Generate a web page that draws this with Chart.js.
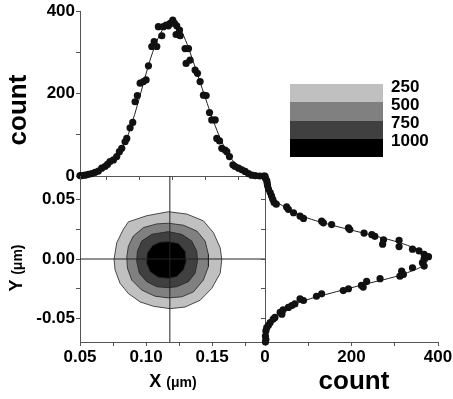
<!DOCTYPE html>
<html>
<head>
<meta charset="utf-8">
<title>beam profile</title>
<script src="https://cdn.jsdelivr.net/npm/chart.js@4.4.1/dist/chart.umd.min.js"></script>
<style>
    body { margin: 0; background: #fff; }
    #wrap { position: relative; width: 453px; height: 399px; overflow: hidden;
            font-family: "Liberation Sans", Arial, sans-serif; font-weight: bold; color: #000; }
    #wrap canvas { position: absolute; left: 0; top: 0; }
    .title { position: absolute; white-space: nowrap; line-height: 1; transform: translate(-50%, -50%); }
    .title.rot { transform: translate(-50%, -50%) rotate(-90deg); }
    .title small { font-size: 14px; font-weight: bold; }
    .key-band { position: absolute; left: 290px; width: 93px; }
    .key-label { position: absolute; left: 391px; font-size: 17px; line-height: 1; transform: translateY(-50%); }
</style>
</head>
<body>
<div id="wrap">
    <canvas id="top-chart" width="453" height="399"></canvas>
    <canvas id="map-chart" width="453" height="399"></canvas>
    <canvas id="side-chart" width="453" height="399"></canvas>
    <div class="title rot" style="left:17px; top:110px; font-size:26px;">count</div>
    <div class="title rot" style="left:16px; top:268px; font-size:18px;">Y <small>(μm)</small></div>
    <div class="title" style="left:173px; top:381px; font-size:18px;">X <small>(μm)</small></div>
    <div class="title" style="left:354px; top:380px; font-size:26px;">count</div>
    <div id="key"></div>
</div>
<script>
// axis ranges and ticks
var xRange = [0.05, 0.19];
var yRange = [-0.07, 0.07];
var countRange = [0, 400];
var mapTicksX = [0.05, 0.075, 0.10, 0.125, 0.15, 0.175];
var mapTicksY = [-0.05, -0.025, 0, 0.025, 0.05];
var topTicksX = [0.07, 0.095, 0.12, 0.145, 0.17];
var countTicks = [0, 100, 200, 300, 400];

// contour levels (key)
var levels = [250, 500, 750, 1000];
var levelColors = ['#c0c0c0', '#808080', '#404040', '#000000'];

// crosshair through the spot centre
var centerX = 0.118;
var centerY = 0.0;

// X profile: measured counts
var topX = [0.0500, 0.0513, 0.0538, 0.0563, 0.0588, 0.0614, 0.0639, 0.0664, 0.0689, 0.0708, 0.0727, 0.0753,
            0.0778, 0.0798, 0.0816, 0.0841, 0.0854, 0.0879, 0.0899, 0.0917, 0.0934, 0.0955, 0.0980, 0.1000,
            0.1018, 0.1043, 0.1061, 0.1081, 0.1093, 0.1119, 0.1131, 0.1152, 0.1169, 0.1182, 0.1202, 0.1215,
            0.1227, 0.1232, 0.1253, 0.1258, 0.1295, 0.1303, 0.1321, 0.1333, 0.1371, 0.1389, 0.1409, 0.1434,
            0.1455, 0.1480, 0.1497, 0.1523, 0.1535, 0.1556, 0.1573, 0.1598, 0.1611, 0.1631, 0.1657, 0.1674,
            0.1700, 0.1725, 0.1750, 0.1775, 0.1800, 0.1826, 0.1860, 0.1890];
var topCount = [1, 1, 2, 4, 6, 9, 12, 19, 23, 28, 35, 39,
                47, 59, 67, 83, 91, 117, 130, 180, 195, 225, 229, 233,
                267, 314, 326, 314, 362, 340, 362, 366, 364, 370, 378, 370,
                343, 364, 354, 340, 309, 273, 309, 281, 257, 249, 229, 196,
                195, 154, 136, 136, 91, 85, 67, 63, 59, 47, 27, 23,
                19, 15, 11, 6, 2, 1, 0, 0];

// X profile: fitted curve
var topFitX = [0.050, 0.055, 0.060, 0.065, 0.070, 0.075, 0.080, 0.085, 0.090, 0.095, 0.100, 0.105, 0.110, 0.115, 0.120,
               0.125, 0.130, 0.135, 0.140, 0.145, 0.150, 0.155, 0.160, 0.165, 0.170, 0.175, 0.180, 0.185, 0.190];
var topFitCount = [1, 3, 7, 14, 24, 38, 58, 88, 135, 190, 248, 300, 340, 364, 372,
                   360, 328, 284, 236, 188, 142, 100, 66, 40, 23, 12, 6, 2, 1];

// Y profile: measured counts
var sideY = [0.0700, 0.0680, 0.0661, 0.0640, 0.0618, 0.0590, 0.0561, 0.0533, 0.0504, 0.0476, 0.0462, 0.0439,
             0.0419, 0.0390, 0.0362, 0.0342, 0.0319, 0.0305, 0.0290, 0.0262, 0.0248, 0.0219, 0.0205, 0.0191,
             0.0162, 0.0158, 0.0125, 0.0105, 0.0083, 0.0069, 0.0040, 0.0020, 0.0003, -0.0031, -0.0060, -0.0074,
             -0.0103, -0.0130, -0.0145, -0.0166, -0.0189, -0.0223, -0.0237, -0.0251, -0.0266, -0.0294, -0.0314,
             -0.0336, -0.0350, -0.0379, -0.0393, -0.0408, -0.0428, -0.0450, -0.0465, -0.0493, -0.0507, -0.0536,
             -0.0559, -0.0579, -0.0607, -0.0650, -0.0679, -0.0700];
var sideCount = [0, 1, 4, 5, 6, 8, 12, 15, 18, 21, 26, 50,
                 54, 66, 81, 89, 131, 135, 154, 193, 196, 229, 247, 254,
                 274, 310, 272, 310, 341, 356, 368, 378, 368, 364, 368, 341,
                 316, 320, 312, 266, 235, 223, 227, 193, 181, 131, 119,
                 81, 89, 69, 62, 54, 42, 35, 39, 23, 19, 12,
                 8, 4, 2, 1, 2, 1];

// Y profile: fitted curve
var sideFitY = [0.070, 0.065, 0.060, 0.055, 0.050, 0.045, 0.040, 0.035, 0.030, 0.025, 0.020, 0.015, 0.010, 0.005, 0.000,
                -0.005, -0.010, -0.015, -0.020, -0.025, -0.030, -0.035, -0.040, -0.045, -0.050, -0.055, -0.060, -0.065, -0.070];
var sideFitCount = [1, 3, 7, 13, 22, 40, 64, 95, 140, 193, 248, 300, 340, 366, 376,
                    368, 340, 300, 245, 192, 140, 92, 60, 38, 22, 11, 5, 2, 1];

// contour outlines, level 250 -> 1000
var ring250X = [0.1169, 0.1308, 0.1434, 0.1510, 0.1561, 0.1573, 0.1561, 0.1497, 0.1409, 0.1295, 0.1182,
                0.1056, 0.0955, 0.0866, 0.0803, 0.0765, 0.0758, 0.0778, 0.0828, 0.0866, 0.1005, 0.1169];
var ring250Y = [0.0399, 0.0379, 0.0322, 0.0222, 0.0094, -0.0005, -0.0120, -0.0248, -0.0348, -0.0405, -0.0419,
                -0.0399, -0.0362, -0.0291, -0.0205, -0.0091, 0.0000, 0.0137, 0.0251, 0.0313, 0.0365, 0.0399];
var ring500X = [0.1169, 0.1283, 0.1384, 0.1447, 0.1472, 0.1472, 0.1434, 0.1359, 0.1270, 0.1169,
                0.1068, 0.0967, 0.0891, 0.0859, 0.0854, 0.0866, 0.0904, 0.0980, 0.1081, 0.1169];
var ring500Y = [0.0302, 0.0285, 0.0236, 0.0151, 0.0037, -0.0063, -0.0177, -0.0277, -0.0319, -0.0328,
                -0.0314, -0.0262, -0.0177, -0.0077, 0.0017, 0.0108, 0.0194, 0.0265, 0.0296, 0.0302];
var ring750X = [0.1169, 0.1270, 0.1346, 0.1384, 0.1389, 0.1371, 0.1321, 0.1232, 0.1169,
                0.1081, 0.1005, 0.0949, 0.0929, 0.0934, 0.0967, 0.1043, 0.1169];
var ring750Y = [0.0231, 0.0208, 0.0151, 0.0065, -0.0020, -0.0120, -0.0191, -0.0234, -0.0242,
                -0.0234, -0.0191, -0.0120, -0.0020, 0.0065, 0.0151, 0.0208, 0.0231];
var ring1000X = [0.1169, 0.1245, 0.1295, 0.1303, 0.1283, 0.1232, 0.1169,
                 0.1093, 0.1030, 0.1005, 0.1010, 0.1051, 0.1106, 0.1169];
var ring1000Y = [0.0145, 0.0131, 0.0065, -0.0020, -0.0091, -0.0148, -0.0162,
                 -0.0154, -0.0106, -0.0034, 0.0051, 0.0114, 0.0142, 0.0145];

var FONT = '"Liberation Sans", Arial, sans-serif';
var AXIS_COLOR = '#555';
var MARK_COLOR = '#111';

function pairs(xs, ys) {
    return xs.map(function(x, i) { return { x: x, y: ys[i] }; });
}

// force the axis box to a fixed size so the three panels line up
function boxSize(size) {
    return function(scale) {
        if (scale.isHorizontal()) {
            scale.height = size;
        } else {
            scale.width = size;
        }
        scale.paddingLeft = 0;
        scale.paddingRight = 0;
        scale.paddingTop = 0;
        scale.paddingBottom = 0;
    };
}

function fixedTicks(values) {
    return function(scale) {
        scale.ticks = values.map(function(v) { return { value: v }; });
    };
}

function axis(range, ticks, size, labelFn) {
    return {
        type: 'linear',
        min: range[0],
        max: range[1],
        afterBuildTicks: fixedTicks(ticks),
        afterFit: boxSize(size),
        border: { display: true, color: AXIS_COLOR, width: 1 },
        grid: { drawOnChartArea: false, tickLength: 4, color: AXIS_COLOR, tickWidth: 1 },
        ticks: {
            display: !!labelFn,
            callback: labelFn || function() { return ''; },
            font: { family: FONT, size: 17, weight: 'bold' },
            color: '#000',
            padding: 1,
            maxRotation: 0,
            autoSkip: false
        }
    };
}

function every200(v) { return v % 200 === 0 ? String(v) : ''; }
function every005(v) {
    var k = v / 0.05;
    return Math.abs(k - Math.round(k)) < 1e-6 ? (Math.abs(v) < 1e-9 ? 0 : v).toFixed(2) : '';
}

var baseOptions = function(padding) {
    return {
        responsive: false,
        animation: false,
        events: [],
        layout: { padding: padding },
        plugins: { legend: { display: false }, tooltip: { enabled: false } }
    };
};

function markSet(xs, ys) {
    return {
        data: pairs(xs, ys),
        pointRadius: 3.6,
        backgroundColor: MARK_COLOR,
        borderColor: MARK_COLOR,
        pointBorderWidth: 0,
        clip: false,
        order: 0
    };
}

function fitSet(xs, ys) {
    return {
        data: pairs(xs, ys),
        showLine: true,
        borderColor: '#222',
        borderWidth: 1,
        pointRadius: 0,
        tension: 0.4,
        clip: false,
        order: 1
    };
}

// top panel: X profile
var topOpts = baseOptions({ left: 0, top: 11, right: 188, bottom: 217 });
topOpts.scales = {
    x: axis(xRange, topTicksX, 6, null),
    y: axis(countRange, countTicks, 80, every200)
};
new Chart(document.getElementById('top-chart'), {
    type: 'scatter',
    data: { datasets: [markSet(topX, topCount), fitSet(topFitX, topFitCount)] },
    options: topOpts
});

// centre panel: contour map
var rings = [[ring250X, ring250Y], [ring500X, ring500Y], [ring750X, ring750Y], [ring1000X, ring1000Y]];
var mapSets = rings.map(function(r, i) {
    return {
        data: pairs(r[0], r[1]),
        showLine: true,
        fill: 'shape',
        backgroundColor: levelColors[i],
        borderColor: '#222',
        borderWidth: 0.8,
        pointRadius: 0,
        tension: 0,
        order: 10 - i
    };
});
mapSets.push({
    data: [{ x: xRange[0], y: centerY }, { x: xRange[1], y: centerY }],
    showLine: true, borderColor: '#222', borderWidth: 1, pointRadius: 0, order: 0
});
mapSets.push({
    data: [{ x: centerX, y: yRange[0] }, { x: centerX, y: yRange[1] }],
    showLine: true, borderColor: '#222', borderWidth: 1, pointRadius: 0, order: 0
});
var mapOpts = baseOptions({ left: 0, top: 176, right: 188, bottom: 27 });
mapOpts.scales = {
    x: axis(xRange, mapTicksX, 30, every005),
    y: axis(yRange, mapTicksY, 80, every005)
};
new Chart(document.getElementById('map-chart'), {
    type: 'scatter',
    data: { datasets: mapSets },
    options: mapOpts
});

// right panel: Y profile
var sideOpts = baseOptions({ left: 259, top: 176, right: 15, bottom: 27 });
sideOpts.scales = {
    x: axis(countRange, countTicks, 30, every200),
    y: axis(yRange, mapTicksY, 6, null)
};
new Chart(document.getElementById('side-chart'), {
    type: 'scatter',
    data: { datasets: [markSet(sideCount, sideY), fitSet(sideFitCount, sideFitY)] },
    options: sideOpts
});

// grey-scale key for the contour levels
var key = document.getElementById('key');
var keyTop = 84, bandH = 18.25;
levels.forEach(function(lv, i) {
    var band = document.createElement('div');
    band.className = 'key-band';
    band.style.top = (keyTop + i * bandH) + 'px';
    band.style.height = bandH + 'px';
    band.style.background = levelColors[i];
    key.appendChild(band);
    var lbl = document.createElement('div');
    lbl.className = 'key-label';
    lbl.style.top = (keyTop + i * bandH + 1.5) + 'px';
    lbl.textContent = lv;
    key.appendChild(lbl);
});
</script>
</body>
</html>
